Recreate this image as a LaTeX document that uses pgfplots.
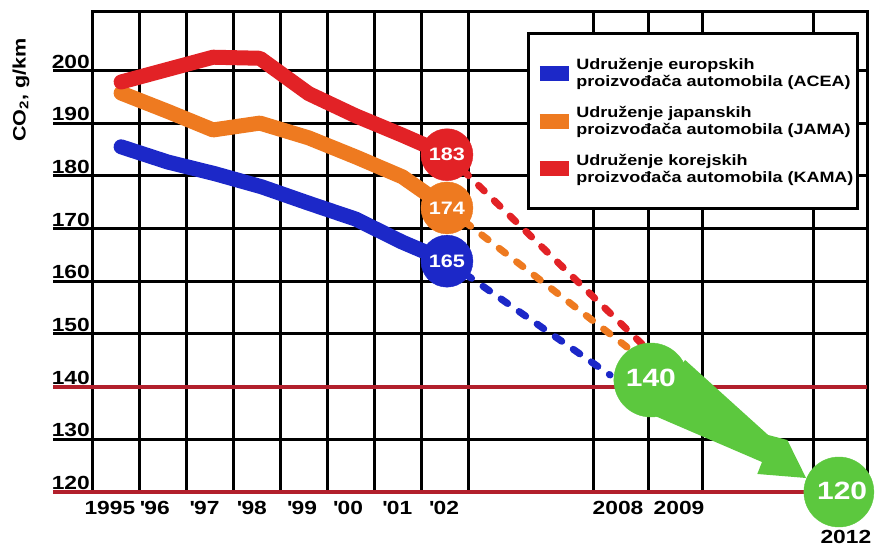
\documentclass[border=0pt]{standalone}
\usepackage{pgfplots}
\pgfplotsset{compat=1.18}
\usepackage{fontspec}
\setmainfont{Liberation Sans}
\newfontfamily\wide{Liberation Sans}[FakeStretch=1.2]

\definecolor{acea}{RGB}{28,40,200}
\definecolor{jama}{RGB}{238,122,32}
\definecolor{kama}{RGB}{226,34,38}
\definecolor{goal}{RGB}{92,200,62}
\definecolor{limit}{RGB}{178,32,44}

\begin{document}
\begin{tikzpicture}
  % page = 875 x 546, axis box from (93,12) to (867,492) in picture pixels
  \path[use as bounding box] (-93pt,-54pt) rectangle (782pt,492pt);
  \begin{axis}[
    scale only axis,
    width=774pt, height=480pt,
    xmin=0, xmax=16.51,
    ymin=120, ymax=211.08,
    clip=false,
    clip mode=individual,
    axis line style={black, line width=3pt},
    grid=major,
    major grid style={black, line width=3pt},
    major tick length=0pt,
    tick style={draw=none},
    xtick={0,1,2,3,4,5,6,7,8,10.67,11.84,13.01,15.36},
    xticklabels={},
    extra x ticks={0.36,1.32,2.38,3.39,4.46,5.44,6.49,7.49,11.2,12.5},
    extra x tick labels={1995,\textquotesingle 96,\textquotesingle 97,\textquotesingle 98,\textquotesingle 99,\textquotesingle 00,\textquotesingle 01,\textquotesingle 02,2008,2009},
    extra x tick style={grid=none},
    ytick={120,130,...,200},
    /pgf/number format/assume math mode=true,
    tick label style={font=\wide\bfseries\fontsize{19}{19}\selectfont},
    xticklabel style={anchor=north, inner sep=0pt, yshift=-9pt},
    yticklabel style={anchor=south east, inner sep=2pt, xshift=-1pt},
    ylabel={CO\textsubscript{2}, g/km},
    ylabel style={at={(rel axis cs:-0.093,0.8375)}, anchor=center,
      font=\wide\bfseries\fontsize{18}{18}\selectfont},
    legend style={at={(rel axis cs:0.5607,0.958)}, anchor=north west,
      draw=black, line width=3pt, fill=white,
      inner xsep=4pt, inner ysep=22pt, row sep=12pt,
      font=\wide\bfseries\fontsize{15}{17}\selectfont,
      nodes={align=left, inner xsep=0pt, inner ysep=3pt}},
    legend cell align=left,
    legend image code/.code={\draw[#1, line width=15pt, line cap=butt] (0pt,0pt) -- (29pt,0pt);},
  ]

  % limit lines at 140 and 120, reaching under the tick labels
  \addplot[limit, line width=4pt, forget plot] coordinates {(-0.853,140) (16.51,140)};
  \addplot[limit, line width=4pt, forget plot] coordinates {(-0.853,120) (15.5,120)};
  \pgfplotsinvokeforeach{130,150,160,170,180,190,200}{
    \draw[black, line width=3pt] (axis cs:-0.853,#1) -- (axis cs:0,#1);
  }

  % forecasts to 2008/09
  \addplot[kama, line width=7pt, line cap=round, dash pattern=on 8pt off 14pt, forget plot]
    coordinates {(7.55,184) (11.73,147.9)};
  \addplot[jama, line width=7pt, line cap=round, dash pattern=on 8pt off 14pt, forget plot]
    coordinates {(7.55,173.9) (11.39,147.5)};
  \addplot[acea, line width=7pt, line cap=round, dash pattern=on 8pt off 14pt, forget plot]
    coordinates {(7.55,163.8) (11.03,142.2)};

  % 1995 - 2002
  \addplot[acea, line width=15pt, line cap=round, line join=round]
    coordinates {(0.6,185.5) (1.6,182.6) (2.6,180.4) (3.6,177.9) (4.6,174.8) (5.6,171.8) (6.6,167.4) (7.55,163.8)};
  \addlegendentry{Udruženje europskih\\proizvođača automobila (ACEA)}
  \addplot[jama, line width=15pt, line cap=round, line join=round]
    coordinates {(0.6,195.7) (1.6,192.2) (2.56,188.7) (3.56,190) (4.6,187.2) (5.6,183.6) (6.6,179.8) (7.55,173.9)};
  \addlegendentry{Udruženje japanskih\\proizvođača automobila (JAMA)}
  \addplot[kama, line width=15pt, line cap=round, line join=round]
    coordinates {(0.6,197.8) (1.6,200.2) (2.56,202.5) (3.56,202.3) (4.6,195.6) (5.6,191.4) (6.6,187.7) (7.55,184)};
  \addlegendentry{Udruženje korejskih\\proizvođača automobila (KAMA)}

  % 2002 values
  \addplot[only marks, mark=*, mark size=26pt, kama, forget plot] coordinates {(7.55,184)};
  \addplot[only marks, mark=*, mark size=26pt, jama, forget plot] coordinates {(7.55,173.9)};
  \addplot[only marks, mark=*, mark size=26pt, acea, forget plot] coordinates {(7.55,163.8)};
  \node[white, font=\wide\bfseries\fontsize{18}{18}\selectfont] at (axis cs:7.55,184) {183};
  \node[white, font=\wide\bfseries\fontsize{18}{18}\selectfont] at (axis cs:7.55,173.9) {174};
  \node[white, font=\wide\bfseries\fontsize{18}{18}\selectfont] at (axis cs:7.55,163.8) {165};

  % targets 140 -> 120
  \addplot[fill=goal, draw=none, forget plot] coordinates {(12.63,145.05) (14.40,130.82) (14.81,129.87) (15.21,122.66) (14.17,123.42) (14.27,125.69) (11.84,134.99)} -- cycle;
  \addplot[only marks, mark=*, mark size=37pt, goal, forget plot] coordinates {(11.90,141.25)};
  \addplot[only marks, mark=*, mark size=35pt, goal, forget plot] coordinates {(15.91,120)};
  \node[white, font=\wide\bfseries\fontsize{25}{25}\selectfont] at (axis cs:11.90,141.6) {140};
  \node[white, font=\wide\bfseries\fontsize{25}{25}\selectfont] at (axis cs:15.98,120.2) {120};
  \node[anchor=north, inner sep=0pt, yshift=-38pt, font=\wide\bfseries\fontsize{19}{19}\selectfont]
    at (axis cs:16.06,120) {2012};
  \end{axis}
\end{tikzpicture}
\end{document}
